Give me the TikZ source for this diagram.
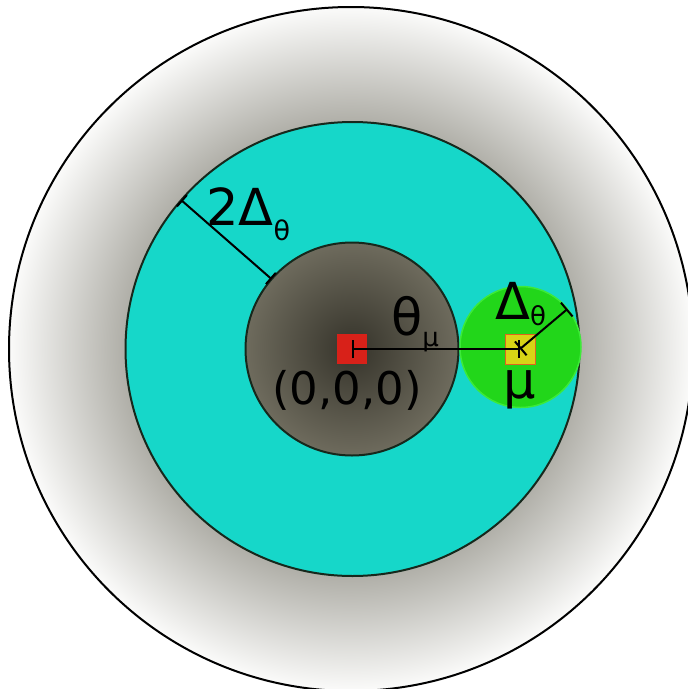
\documentclass[tikz,border=0pt]{standalone}
\usepackage{fontspec}
\setmainfont{DejaVu Sans}
\usetikzlibrary{arrows.meta}
\definecolor{cyanfill}{HTML}{16D7C9}
\definecolor{ringline}{HTML}{16281C}
\definecolor{greenfill}{HTML}{22D61A}
\definecolor{greenline}{HTML}{3DEA38}
\definecolor{redfill}{HTML}{D82119}
\definecolor{yellowfill}{HTML}{D8D416}
\definecolor{yellowline}{HTML}{E0641E}
\definecolor{ocenter}{HTML}{38362C}
\definecolor{omid}{HTML}{B0AFA8}
\definecolor{oedge}{HTML}{FBFBFA}
\definecolor{icenter}{HTML}{35332A}
\definecolor{iedge}{HTML}{6E6B5D}
\pgfdeclareradialshading{outerglow}{\pgfpoint{0bp}{0bp}}{color(0bp)=(ocenter); color(16.6bp)=(omid); color(25bp)=(oedge); color(50bp)=(oedge)}
\pgfdeclareradialshading{innerglow}{\pgfpoint{0bp}{0bp}}{color(0bp)=(icenter); color(25bp)=(iedge); color(50bp)=(iedge)}
\newcommand{\mysub}[3]{{\fontsize{#2}{#2}\selectfont\raisebox{-#1pt}{#3}}}
\tikzset{
  ring/.style={circle, inner sep=0pt, outer sep=0pt},
  sq/.style={rectangle, inner sep=0pt, outer sep=0pt, minimum size=30pt},
  dim/.style={line width=2pt, {Bar[width=18pt]}-{Bar[width=18pt]}},
  lbl/.style={inner sep=0pt, anchor=base west, text=black},
}
\begin{document}
\begin{tikzpicture}[x=1pt, y=-1pt]
\useasboundingbox (0,0) rectangle (688,689);
\clip (0,0) rectangle (688,689);
\fill[white] (0,0) rectangle (688,689);
\node[ring, minimum size=684pt, shading=outerglow, draw=black, line width=2pt] (outer) at (351,349) {};
\node[ring, minimum size=454pt, fill=cyanfill, draw=ringline, line width=2pt] (cyan) at (352.5,349) {};
\node[ring, minimum size=213pt, shading=innerglow, draw=ringline, line width=2pt] (inner) at (352,349) {};
\node[ring, minimum size=121pt, fill=greenfill, draw=greenline, line width=1.5pt] (green) at (520.5,347) {};
\node[sq, fill=redfill] (red) at (352,349) {};
\node[sq, fill=yellowfill, draw=yellowline, line width=1pt] (yellow) at (520,349) {};
\draw[dim] (red.center) -- (yellow.center);
\draw[dim] (yellow.center) -- (green.39);
\draw[line width=2pt, {Bar[width=15pt]}-{Bar[width=15pt]}] (cyan.139.5) -- (inner.139.5);
\node[lbl] (lab2d) at (206,225) {\fontsize{51}{52}\selectfont 2Δ\mysub{15}{27}{θ}};
\node[lbl] (labtm) at (391,335) {\fontsize{51}{52}\selectfont θ\mysub{11}{26}{μ}};
\node[lbl] (labdt) at (495,319) {\fontsize{51}{52}\selectfont Δ\mysub{6}{26}{θ}};
\node[lbl] (labmu) at (503,398) {\fontsize{51}{52}\selectfont μ};
\node[lbl] (labo) at (272,404) {\fontsize{45}{46}\selectfont (0,0,0)};
\end{tikzpicture}
\end{document}
